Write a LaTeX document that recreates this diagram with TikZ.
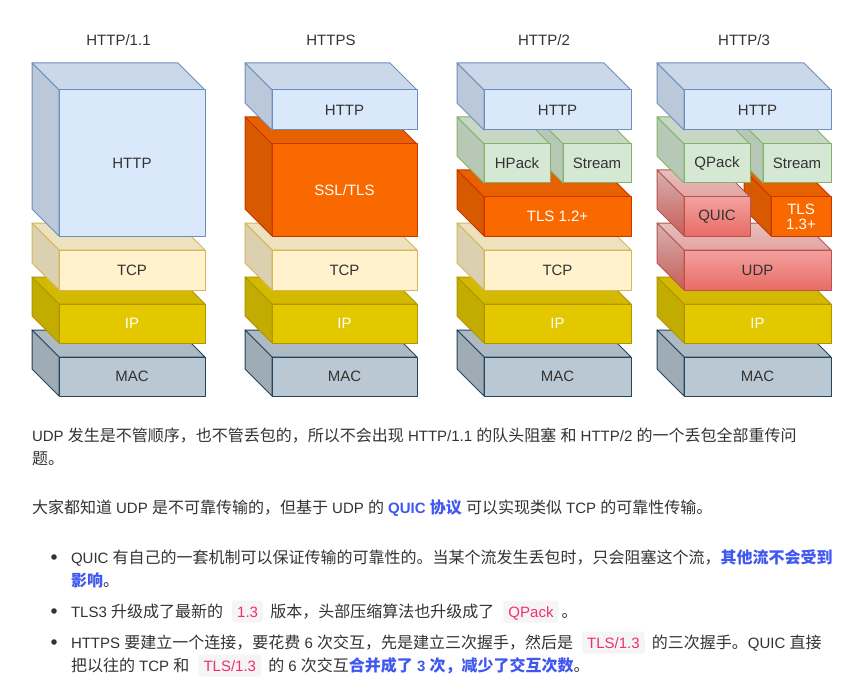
\documentclass[tikz,border=0pt]{standalone}
\usepackage{fontspec}
\setmainfont{Liberation Sans}
\newfontfamily\cjk[Scale=1.0667]{Noto Sans CJK SC}
\newcommand\zh[1]{{\cjk #1}}
\definecolor{txtc}{HTML}{333333}
\definecolor{lnk}{HTML}{4058F0}
\definecolor{codec}{HTML}{F0306A}
\definecolor{codebg}{HTML}{F5F5F5}
\definecolor{cBlue}{HTML}{DAE8FC}\definecolor{sBlue}{HTML}{6C8EBF}
\definecolor{cCream}{HTML}{FFF2CC}\definecolor{sCream}{HTML}{D6B656}
\definecolor{cIp}{HTML}{E3C800}\definecolor{sIp}{HTML}{B09500}
\definecolor{cMac}{HTML}{BAC8D3}\definecolor{sMac}{HTML}{23445D}
\definecolor{cOra}{HTML}{FA6800}\definecolor{sOra}{HTML}{C73500}
\definecolor{cGre}{HTML}{D5E8D4}\definecolor{sGre}{HTML}{82B366}
\definecolor{cRedA}{HTML}{F8CECC}\definecolor{cRedB}{HTML}{EA6B66}\definecolor{sRed}{HTML}{B85450}
\newcommand\lab{\fontsize{15}{17}\selectfont}
\newcommand\hl[1]{{\color{lnk}\bfseries #1}}
\tikzset{
  face/.style={line width=1pt, line join=round},
  frontface/.style={face, inner sep=0pt, outer sep=0pt, font=\lab, text=txtc, align=center},
  blueT/.style={face, draw=sBlue, fill=cBlue!93!black},
  blueL/.style={face, draw=sBlue, fill=cBlue!86!black},
  blueF/.style={frontface, draw=sBlue, fill=cBlue},
  creamT/.style={face, draw=sCream, fill=cCream!93!black},
  creamL/.style={face, draw=sCream, fill=cCream!86!black},
  creamF/.style={frontface, draw=sCream, fill=cCream},
  ipT/.style={face, draw=sIp, fill=cIp!93!black},
  ipL/.style={face, draw=sIp, fill=cIp!86!black},
  ipF/.style={frontface, draw=sIp, fill=cIp, text=white},
  macT/.style={face, draw=sMac, fill=cMac!93!black},
  macL/.style={face, draw=sMac, fill=cMac!86!black},
  macF/.style={frontface, draw=sMac, fill=cMac},
  oraT/.style={face, draw=sOra, fill=cOra!93!black},
  oraL/.style={face, draw=sOra, fill=cOra!86!black},
  oraF/.style={frontface, draw=sOra, fill=cOra, text=white},
  greT/.style={face, draw=sGre, fill=cGre!93!black},
  greL/.style={face, draw=sGre, fill=cGre!86!black},
  greF/.style={frontface, draw=sGre, fill=cGre},
  redT/.style={face, draw=sRed, top color=cRedA!93!black, bottom color=cRedA!70!cRedB!93!black},
  redL/.style={face, draw=sRed, top color=cRedA!86!black, bottom color=cRedB!86!black},
  redF/.style={frontface, draw=sRed, top color=cRedA!55!cRedB, bottom color=cRedB},
  title/.style={font=\lab, text=txtc, inner sep=0pt},
  txt/.style={anchor=base west, inner sep=0pt, outer sep=0pt, font=\fontsize{15}{18}\selectfont, text=txtc},
  code/.style={anchor=base west, inner xsep=5pt, inner ysep=5.5pt, text height=11pt, text depth=0pt,
    fill=codebg, rounded corners=3pt, font=\fontsize{15}{18}\selectfont, text=codec},
  bullet/.style={circle, fill=txtc, inner sep=0pt, minimum size=5.6pt}
}
% #1 name, #2 x1, #3 y1, #4 x2, #5 y2, #6 colour prefix, #7 label
\newcommand\cube[7]{%
  \path[#6T] (#2,#3) -- (#4-27,#3) -- (#4,#3+27) -- (#2+27,#3+27) -- cycle;
  \path[#6L] (#2,#3) -- (#2+27,#3+27) -- (#2+27,#5) -- (#2,#5-27) -- cycle;
  \node[#6F, anchor=north west, minimum width={#4pt-#2pt-27pt}, minimum height={#5pt-#3pt-27pt}] (#1) at (#2+27,#3+27) {#7};
}
\begin{document}
\begin{tikzpicture}[x=1pt,y=-1pt]
\useasboundingbox[fill=white] (0,0) rectangle (844,690);
% titles
\node[title] (t1) at (118.5,40) {HTTP/1.1};
\node[title] (t2) at (331,40) {HTTPS};
\node[title] (t3) at (544,40) {HTTP/2};
\node[title] (t4) at (744,40) {HTTP/3};
% column 1
\cube{a6}{32}{330}{205}{396}{mac}{MAC}
\cube{a5}{32}{277}{205}{343}{ip}{IP}
\cube{a4}{32}{223}{205}{290}{cream}{TCP}
\cube{a1}{32}{63}{205}{236}{blue}{HTTP}
% column 2
\cube{b6}{245}{330}{417}{396}{mac}{MAC}
\cube{b5}{245}{277}{417}{343}{ip}{IP}
\cube{b4}{245}{223}{417}{290}{cream}{TCP}
\cube{b2}{245}{117}{417}{236}{ora}{SSL/TLS}
\cube{b1}{245}{63}{417}{130}{blue}{HTTP}
% column 3
\cube{c6}{457}{330}{631}{396}{mac}{MAC}
\cube{c5}{457}{277}{631}{343}{ip}{IP}
\cube{c4}{457}{223}{631}{290}{cream}{TCP}
\cube{c3}{457}{170}{631}{236}{ora}{TLS 1.2+}
\cube{c2b}{536}{117}{631}{183}{gre}{Stream}
\cube{c2a}{457}{117}{550}{183}{gre}{HPack}
\cube{c1}{457}{63}{631}{130}{blue}{HTTP}
% column 4
\cube{d6}{657}{330}{831}{396}{mac}{MAC}
\cube{d5}{657}{277}{831}{343}{ip}{IP}
\cube{d4}{657}{223}{831}{290}{red}{UDP}
\cube{d3b}{744}{170}{831}{236}{ora}{TLS\\[-2pt]1.3+}
\cube{d3a}{657}{170}{750}{236}{red}{QUIC}
\cube{d2b}{736}{117}{831}{183}{gre}{Stream}
\cube{d2a}{657}{117}{750}{183}{gre}{QPack}
\cube{d1}{657}{63}{831}{130}{blue}{HTTP}
% text
\node[txt] (p1) at (32,441) {UDP \zh{发生是不管顺序，也不管丢包的，所以不会出现} HTTP/1.1 \zh{的队头阻塞} \zh{和} HTTP/2 \zh{的一个丢包全部重传问}};
\node[txt] (p2) at (32,464) {\zh{题。}};
\node[txt] (p3) at (32,513) {\zh{大家都知道} UDP \zh{是不可靠传输的，但基于} UDP \zh{的} \hl{QUIC \zh{协议}} \zh{可以实现类似} TCP \zh{的可靠性传输。}};
% bullets
\node[bullet] (k1) at (54,557) {};
\node[bullet] (k2) at (54,611) {};
\node[bullet] (k3) at (54,642) {};
\node[txt] (q1) at (71,563) {QUIC \zh{有自己的一套机制可以保证传输的可靠性的。当某个流发生丢包时，只会阻塞这个流，}\hl{\zh{其他流不会受到}}};
\node[txt] (q1b) at (71,586) {\hl{\zh{影响}}\zh{。}};
\node[txt] (q2a) at (71,617) {TLS3 \zh{升级成了最新的}};
\node[code] (q2b) at ([xshift=9pt]q2a.base east) {1.3};
\node[txt] (q2c) at ([xshift=7pt]q2b.base east) {\zh{版本，头部压缩算法也升级成了}};
\node[code] (q2d) at ([xshift=9pt]q2c.base east) {QPack};
\node[txt] (q2e) at ([xshift=3pt]q2d.base east) {\zh{。}};
\node[txt] (q3a) at (71,648) {HTTPS \zh{要建立一个连接，要花费} 6 \zh{次交互，先是建立三次握手，然后是}};
\node[code] (q3b) at ([xshift=9pt]q3a.base east) {TLS/1.3};
\node[txt] (q3c) at ([xshift=7pt]q3b.base east) {\zh{的三次握手。}QUIC \zh{直接}};
\node[txt] (q4a) at (71,671) {\zh{把以往的} TCP \zh{和}};
\node[code] (q4b) at ([xshift=9pt]q4a.base east) {TLS/1.3};
\node[txt] (q4c) at ([xshift=7pt]q4b.base east) {\zh{的} 6 \zh{次交互}\hl{\zh{合并成了} 3 \zh{次，减少了交互次数}}\zh{。}};
\end{tikzpicture}
\end{document}
